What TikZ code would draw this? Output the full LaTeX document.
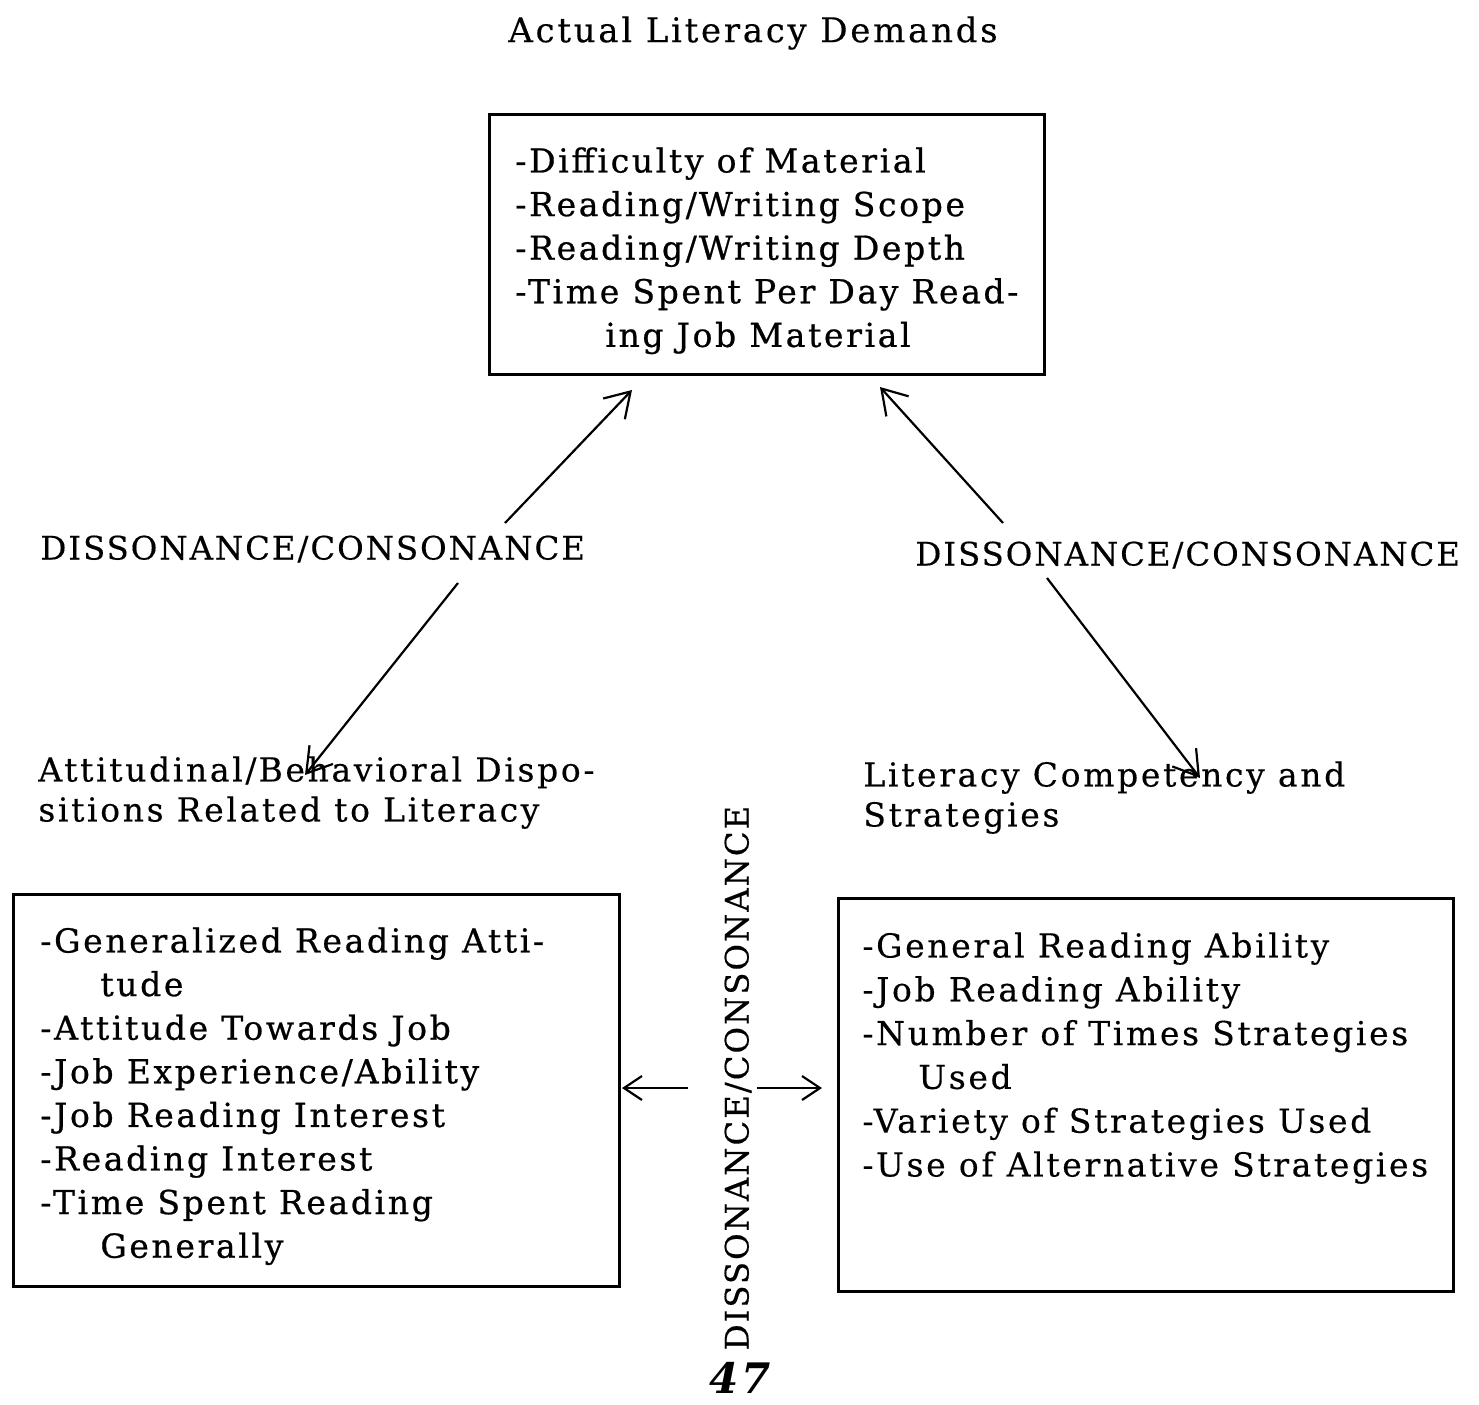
\documentclass[tikz,border=0pt]{standalone}
\usepackage{fontspec}
\setmainfont{DejaVu Serif}[LetterSpace=8]
\newfontfamily\boxfont{DejaVu Serif}[LetterSpace=8, FakeBold=0.7]
\newfontfamily\lblfont{DejaVu Serif}[LetterSpace=8, FakeBold=0.3]
\newfontfamily\capfont{DejaVu Serif}[LetterSpace=6, FakeBold=0.3]
\usetikzlibrary{arrows.meta}
\begin{document}
\begin{tikzpicture}[x=0.5pt,y=-0.5pt,
  box/.style={draw, line width=1.5pt, inner sep=0pt, anchor=north west},
  txt/.style={inner sep=0pt, anchor=north west, align=left,
    font=\boxfont\fontsize{16.5}{21.8}\selectfont},
  sub/.style={inner sep=0pt, anchor=north west, align=left,
    font=\lblfont\fontsize{16.5}{20}\selectfont},
  lbl/.style={inner sep=0pt, font=\capfont\fontsize{16.2}{20}\selectfont},
  arr/.style={line width=1.1pt, -{Straight Barb[length=12pt,width=15pt]}},
  harr/.style={line width=1.1pt, -{Straight Barb[length=9pt,width=12pt]}}]
\useasboundingbox (0,0) rectangle (1479,1404);

% title
\node[inner sep=0pt, font=\lblfont\fontsize{17}{20}\selectfont] (title) at (753,33) {Actual Literacy Demands};

% boxes
\node[box, minimum width=277.5pt, minimum height=130pt] (topbox) at (488,113) {};
\node[box, minimum width=303pt, minimum height=196pt] (leftbox) at (12,893) {};
\node[box, minimum width=307.5pt, minimum height=196.5pt] (rightbox) at (837,897) {};

% box texts
\node[txt] (toptext) at (515,147) {-Difficulty of Material\\
-Reading/\kern1pt Writing Scope\\
-Reading/\kern1pt Writing Depth\\
-Time Spent Per Day Read-\\
\hspace*{45pt}ing Job Material};

\node[txt] (lefttext) at (40,927) {-Generalized Reading Atti-\\
\hspace*{30pt}tude\\
-Attitude Towards Job\\
-Job Experience/\kern1pt Ability\\
-Job Reading Interest\\
-Reading Interest\\
-Time Spent Reading\\
\hspace*{30pt}Generally};

\node[txt, font=\lblfont\fontsize{16.5}{21.9}\selectfont] (righttext) at (862,932) {-General Reading Ability\\
-Job Reading Ability\\
-Number of Times Strategies\\
\hspace*{28pt}Used\\
-Variety of Strategies Used\\
-Use of Alternative Strategies};

% labels
\node[lbl, anchor=west] (dcleft) at (40,549) {DISSONANCE/\kern1pt CONSONANCE};
\node[lbl, anchor=west] (dcright) at (915,555) {DISSONANCE/\kern1pt CONSONANCE};
\node[lbl, rotate=90] (dcmid) at (738,1078) {DISSONANCE/\kern1pt CONSONANCE};

\node[sub] (attlabel) at (38,756) {Attitudinal/\kern1pt Behavioral Dispo-\\sitions Related to Literacy};
\node[sub] (complabel) at (863,761) {Literacy Competency and\\Strategies};

% arrow end points
\coordinate (a1s) at (505,523);
\coordinate (a1e) at (632,390);
\coordinate (a2s) at (458,583);
\coordinate (a2e) at (305,775);
\coordinate (b1s) at (1003,523);
\coordinate (b1e) at (880,387);
\coordinate (b2s) at (1047,578);
\coordinate (b2e) at (1200,778);
\coordinate (h1s) at (688,1088);
\coordinate (h1e) at (622,1088);
\coordinate (h2s) at (757,1088);
\coordinate (h2e) at (822,1088);

\draw[arr] (a1s) -- (a1e);
\draw[arr] (a2s) -- (a2e);
\draw[arr] (b1s) -- (b1e);
\draw[arr] (b2s) -- (b2e);
\draw[harr] (h1s) -- (h1e);
\draw[harr] (h2s) -- (h2e);

% page number
\node[inner sep=0pt, font=\fontsize{21}{23}\bfseries\itshape\selectfont] (pagenum) at (740,1378) {47};
\end{tikzpicture}
\end{document}
